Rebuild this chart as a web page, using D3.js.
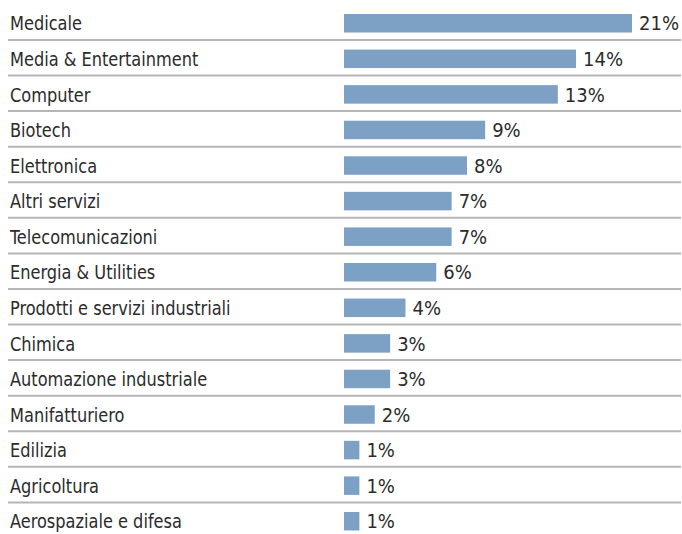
<!DOCTYPE html>
<html>
<head>
<meta charset="utf-8">
<script src="https://cdn.jsdelivr.net/npm/d3@7"></script>
<style>
  html, body { margin: 0; padding: 0; background: #fff; }
  svg { display: block; }
  text { font-family: "DejaVu Sans Condensed", "DejaVu Sans", sans-serif; font-stretch: condensed; fill: #2b2b2b; }
</style>
</head>
<body>
<svg id="chart" width="682" height="534"></svg>
<script>
// Sector shares, in percent
const categories = [
  "Medicale",
  "Media & Entertainment",
  "Computer",
  "Biotech",
  "Elettronica",
  "Altri servizi",
  "Telecomunicazioni",
  "Energia & Utilities",
  "Prodotti e servizi industriali",
  "Chimica",
  "Automazione industriale",
  "Manifatturiero",
  "Edilizia",
  "Agricoltura",
  "Aerospaziale e difesa"
];
const shares = [21, 14, 13, 9, 8, 7, 7, 6, 4, 3, 3, 2, 1, 1, 1];
const valueLabels = ["21%", "14%", "13%", "9%", "8%", "7%", "7%", "6%", "4%", "3%", "3%", "2%", "1%", "1%", "1%"];

const width = 682, height = 534;
const svg = d3.select("#chart");

const barLeft = 344;
const rowStep = 35.57;
const rowTop = 4.4;
const barOffset = 9.6;
const barHeight = 18.5;

// One band per sector row
const y = d3.scaleBand()
  .domain(categories)
  .range([rowTop, rowTop + rowStep * categories.length])
  .padding(0);

// Bar length scale; the longest bar is compressed so its label fits
const x = d3.scaleLinear()
  .domain([0, 8, 14, 21])
  .range([0, 123, 232, 288]);

const rows = svg.selectAll("g.row")
  .data(categories.map((c, i) => ({ name: c, value: shares[i], label: valueLabels[i], i })))
  .join("g")
  .attr("class", "row")
  .attr("transform", d => `translate(0,${y(d.name)})`);

// Separators between rows
rows.filter(d => d.i < categories.length - 1)
  .append("line")
  .attr("x1", 8).attr("x2", 681)
  .attr("y1", y.bandwidth()).attr("y2", y.bandwidth())
  .attr("stroke", "#b5b5b5")
  .attr("stroke-width", 2);

rows.append("rect")
  .attr("x", barLeft)
  .attr("y", barOffset)
  .attr("width", d => x(d.value))
  .attr("height", barHeight)
  .attr("fill", "#7ca1c5");

// Sector names, set in a narrow face
rows.append("text")
  .attr("transform", `translate(10,${barOffset + barHeight / 2}) scale(0.9,1)`)
  .attr("dy", "0.36em")
  .attr("font-size", 20)
  .text(d => d.name);

rows.append("text")
  .attr("x", d => barLeft + x(d.value) + 7)
  .attr("y", barOffset + barHeight / 2)
  .attr("dy", "0.36em")
  .attr("font-size", 20)
  .text(d => d.label);
</script>
</body>
</html>
